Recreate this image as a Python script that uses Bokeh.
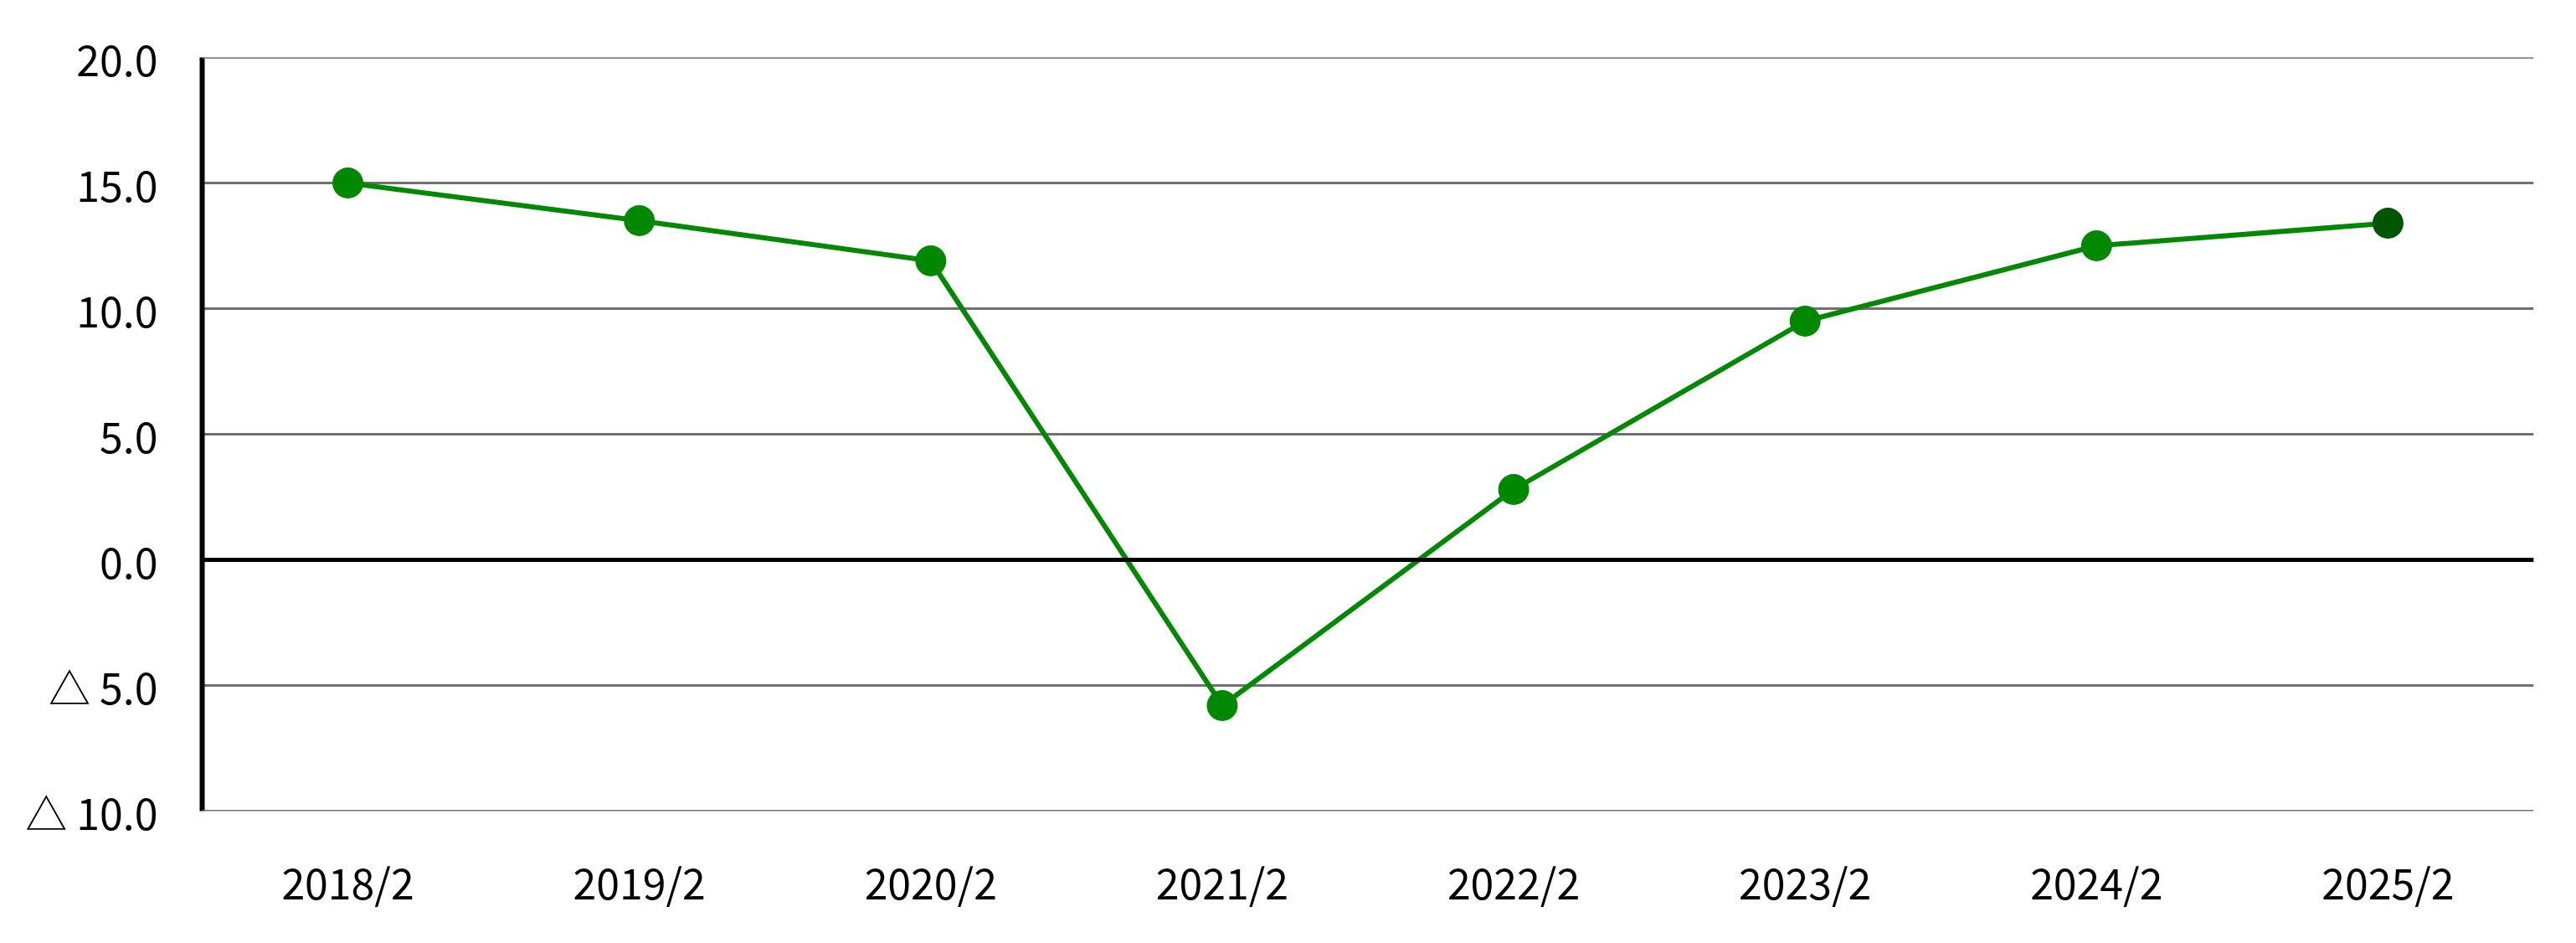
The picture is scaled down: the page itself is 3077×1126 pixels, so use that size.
from bokeh.plotting import figure
from bokeh.models import FixedTicker, Span, Range1d, ColumnDataSource
from bokeh.embed import file_html
from bokeh.resources import INLINE

periods = ["2018/2", "2019/2", "2020/2", "2021/2", "2022/2", "2023/2", "2024/2", "2025/2"]
values = [15.0, 13.5, 11.9, -5.8, 2.8, 9.5, 12.5, 13.4]
marker_colors = ["#008800"] * 7 + ["#005500"]
y_ticks = [-10, -5, 0, 5, 10, 15, 20]
y_tick_labels = ["△ 10.0", "△ 5.0", "0.0", "5.0", "10.0", "15.0", "20.0"]

FONT = "Noto Sans CJK JP"

p = figure(x_range=periods, y_range=Range1d(y_ticks[0], y_ticks[-1]),
           frame_width=2785, frame_height=900,
           min_border_left=241, min_border_top=68, min_border_right=30, min_border_bottom=120,
           output_backend="svg", toolbar_location=None)
p.outline_line_color = None
p.background_fill_color = "white"

src = ColumnDataSource(dict(x=periods, y=values, c=marker_colors))

# grid
p.xgrid.grid_line_color = None
p.ygrid.grid_line_color = "#707070"
p.ygrid.grid_line_width = 3
p.yaxis.ticker = FixedTicker(ticks=y_ticks)
p.yaxis.major_label_overrides = {t: l for t, l in zip(y_ticks, y_tick_labels)}

for edge in (y_ticks[0], y_ticks[-1]):
    p.add_layout(Span(location=edge, dimension="width", line_color="#707070", line_width=3))

zero = Span(location=0, dimension="width", line_color="black", line_width=5)
p.add_layout(zero)

p.line("x", "y", source=src, line_color="#008800", line_width=6)
p.scatter("x", "y", source=src, size=37, fill_color="c", line_color="c", line_width=0)

# axes
p.yaxis.axis_line_width = 6
p.yaxis.axis_line_color = "black"
p.yaxis.major_tick_line_color = None
p.yaxis.minor_tick_line_color = None
p.yaxis.major_tick_out = 0
p.yaxis.major_tick_in = 0
p.yaxis.major_label_standoff = 53
p.yaxis.major_label_text_font = FONT
p.yaxis.major_label_text_font_size = "50px"
p.yaxis.major_label_text_color = "black"

p.xaxis.axis_line_color = None
p.xaxis.major_tick_line_color = None
p.xaxis.minor_tick_line_color = None
p.xaxis.major_tick_out = 0
p.xaxis.major_tick_in = 0
p.xaxis.major_label_standoff = 47
p.xaxis.major_label_text_font = FONT
p.xaxis.major_label_text_font_size = "50px"
p.xaxis.major_label_text_color = "black"

open("out.html", "w").write(file_html(p, INLINE))
